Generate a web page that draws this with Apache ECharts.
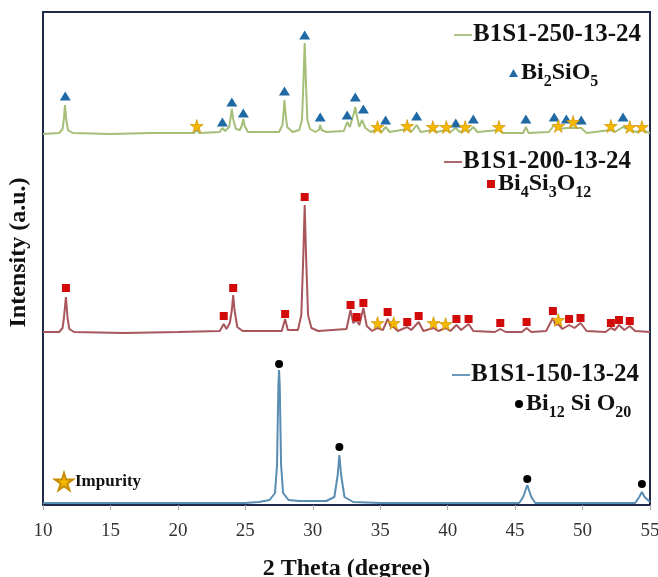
<!DOCTYPE html>
<html><head><meta charset="utf-8">
<script src="https://cdn.jsdelivr.net/npm/echarts@6/dist/echarts.min.js"></script>
<style>html,body{margin:0;padding:0;background:#fff}#c{width:658px;height:577px}</style>
</head><body><div id="c"></div>
<script>
// X axis (2 Theta, degree)
const xMin = 10, xMax = 55, xStep = 5;
// Trace points [2theta, intensity a.u.] (stacked traces already offset)
const trace250 = [[10,371],[11.2,372],[11.45,376],[11.55,386],[11.63,400],[11.72,386],[11.85,375],[12.2,372],[15,371],[18,372],[21.2,372],[21.4,375],[21.6,372],[23.1,373],[23.3,377],[23.5,374],[23.8,378],[23.92,388],[24.0,396],[24.1,386],[24.3,376],[24.6,375],[24.75,380],[24.85,386],[24.95,379],[25.2,373],[27.5,373],[27.75,380],[27.85,395],[27.9,405],[27.97,393],[28.1,378],[28.5,373],[29.0,375],[29.2,385],[29.3,420],[29.4,462],[29.5,420],[29.6,385],[29.8,376],[30.2,373],[30.45,375],[30.55,380],[30.65,375],[31.0,373],[32.3,374],[32.55,383],[32.75,378],[32.9,385],[33.05,392],[33.15,398],[33.25,390],[33.45,378],[33.65,385],[33.75,387],[33.9,377],[34.3,373],[34.8,376],[35.1,373],[35.4,378],[35.7,373],[37.0,376],[37.3,373],[37.7,380],[38.0,373],[38.9,375],[39.2,373],[39.9,375],[40.2,373],[40.6,377],[40.9,373],[41.3,375],[41.6,374],[41.9,378],[42.2,373],[43.8,375],[44.1,372],[45.6,372],[45.8,378],[46.0,372],[47.5,373],[47.9,380],[48.2,376],[48.8,377],[49.3,377],[49.9,377],[50.3,372],[52.1,375],[52.4,373],[53.0,378],[53.5,375],[54.0,373],[54.4,375],[55,372]];
const trace200 = [[10,173],[11.2,173],[11.45,177],[11.55,187],[11.7,208],[11.82,187],[11.95,176],[12.3,173],[16,172],[20,173],[23.1,174],[23.4,181],[23.6,176],[23.85,182],[24.0,195],[24.1,210],[24.2,195],[24.4,178],[24.8,174],[27.7,174],[27.95,186],[28.15,175],[28.9,175],[29.15,190],[29.3,250],[29.4,300],[29.5,250],[29.65,190],[29.9,177],[30.4,174],[32.5,176],[32.8,195],[33.0,182],[33.25,185],[33.45,180],[33.75,197],[34.0,179],[34.4,174],[34.8,177],[35.2,175],[35.55,186],[35.8,178],[36.0,178],[36.3,174],[37.0,178],[37.3,175],[37.85,183],[38.2,174],[38.95,177],[39.3,174],[39.85,177],[40.2,174],[40.65,180],[41.0,175],[41.55,181],[41.9,174],[43.5,173],[43.9,176],[44.3,173],[45.5,173],[45.85,177],[46.2,173],[47.3,174],[47.8,187],[48.0,180],[48.2,181],[48.5,176],[49.0,180],[49.4,177],[49.85,182],[50.3,174],[51.7,173],[52.1,177],[52.4,175],[52.7,180],[53.1,175],[53.5,179],[53.9,174],[55,173]];
const trace150 = [[10,2],[15,2],[20,2],[25,2],[26,3],[26.8,5],[27.2,12],[27.35,40],[27.45,120],[27.5,135],[27.55,120],[27.65,40],[27.8,12],[28.2,5],[29,4],[31,4],[31.6,8],[31.85,30],[31.97,50],[32.1,30],[32.35,8],[33,3],[35,2],[40,2],[45.3,2],[45.6,8],[45.9,20],[46.2,8],[46.5,2],[50,2],[53.9,2],[54.2,8],[54.4,13],[54.6,8],[55,3]];
// Phase markers [2theta, intensity]
const bi2sio5 = [[11.65,409],[23.3,383],[24.0,403],[24.85,392],[27.9,414],[29.4,470],[30.55,388],[32.55,390],[33.15,408],[33.75,396],[35.4,385],[37.7,389],[40.6,382],[41.9,386],[45.8,386],[47.9,388],[48.8,386],[49.9,385],[53.0,388]];
const bi4si3o12 = [[11.7,217],[23.4,189],[24.1,217],[27.95,191],[29.4,308],[32.8,200],[33.25,188],[33.75,202],[35.55,193],[37.0,183],[37.85,189],[40.65,186],[41.55,186],[43.9,182],[45.85,183],[47.8,194],[49.0,186],[49.85,187],[52.1,182],[52.7,185],[53.5,184]];
const bi12sio20 = [[27.5,141],[31.97,58],[45.9,26],[54.4,21]];
const impurity = [[21.4,379],[34.8,378],[37.0,379],[38.9,378],[39.9,378],[41.3,378],[43.8,378],[48.2,379],[49.3,383],[52.1,379],[53.5,378],[54.4,378],[34.8,182],[36.0,182],[38.95,182],[39.85,181],[48.2,185]];

const SERIF = '"Liberation Serif","Times New Roman",serif';
const STAR = 'path://M50,0 L61,35 L98,35 L68,57 L79,91 L50,70 L21,91 L32,57 L2,35 L39,35 Z';
const LINEICON = 'path://M0,0 H20 V2 H0 Z';
const richNames = {
  'Bi2SiO5': '{b|Bi}{s|2}{b|SiO}{s|5}',
  'Bi4Si3O12': '{b|Bi}{s|4}{b|Si}{s|3}{b|O}{s|12}',
  'Bi12 Si O20': '{b|Bi}{s|12}{b| Si O}{s|20}'
};
const rich = {
  b: {fontFamily: SERIF, fontWeight: 'bold', fontSize: 24, color: '#111', lineHeight: 33, verticalAlign: 'middle'},
  s: {fontFamily: SERIF, fontWeight: 'bold', fontSize: 16, color: '#111', lineHeight: 33, verticalAlign: 'bottom'}
};
function nameLegend(name, left, top) {
  return {data: [name], left: left, top: top, padding: 0, icon: LINEICON, itemWidth: 18, itemHeight: 2, itemGap: 0,
    textStyle: {fontFamily: SERIF, fontWeight: 'bold', fontSize: 25, color: '#111', lineHeight: 26, padding: [0,0,0,-4]}};
}
function phaseLegend(name, icon, w, h, left, top) {
  return {data: [name], left: left, top: top, padding: 0, icon: icon, itemWidth: w, itemHeight: h,
    formatter: n => richNames[n], textStyle: {rich: rich, padding: [0,0,0,-2]}};
}
const chart = echarts.init(document.getElementById('c'), null, {renderer: 'canvas'});
chart.setOption({
  animation: false,
  backgroundColor: '#fff',
  grid: {left: 43, right: 8, top: 12, bottom: 72, outerBoundsMode: 'none', containLabel: false, show: true, borderColor: '#1e2b4a', borderWidth: 2, backgroundColor: 'transparent'},
  legend: [
    nameLegend('B1S1-250-13-24', 454, 22),
    phaseLegend('Bi2SiO5', 'triangle', 9, 8, 509, 61),
    nameLegend('B1S1-200-13-24', 444, 149),
    phaseLegend('Bi4Si3O12', 'rect', 8, 8, 487, 172),
    nameLegend('B1S1-150-13-24', 452, 362),
    phaseLegend('Bi12 Si O20', 'circle', 8, 8, 515, 392),
    {data: ['Impurity'], left: 54, top: 472, padding: 0, icon: STAR, itemWidth: 18, itemHeight: 18,
     textStyle: {fontFamily: SERIF, fontWeight: 'bold', fontSize: 17, color: '#111', padding: [0,0,0,-3]}}
  ],
  xAxis: {type: 'value', min: xMin, max: xMax, interval: xStep,
    name: '2 Theta (degree)', nameLocation: 'middle', nameGap: 52,
    nameTextStyle: {fontFamily: SERIF, fontWeight: 'bold', fontSize: 24, color: '#111'},
    axisLine: {show: true, lineStyle: {color: '#1e2b4a', width: 2}},
    axisTick: {show: true, length: 5, lineStyle: {color: '#aaa'}},
    axisLabel: {fontFamily: SERIF, fontSize: 19, color: '#333', margin: 17},
    splitLine: {show: false}},
  yAxis: {type: 'value', min: 0, max: 493,
    name: 'Intensity (a.u.)', nameLocation: 'middle', nameGap: 12, nameRotate: 90,
    nameTextStyle: {fontFamily: SERIF, fontWeight: 'bold', fontSize: 24, color: '#111', padding: [0,0,0,12]},
    axisLine: {show: false}, axisTick: {show: false}, axisLabel: {show: false}, splitLine: {show: false}},
  series: [
    {name: 'B1S1-250-13-24', type: 'line', data: trace250, showSymbol: false, symbol: 'none', lineStyle: {color: '#a5be78', width: 2}, itemStyle: {color: '#a5be78'}, z: 2},
    {name: 'B1S1-200-13-24', type: 'line', data: trace200, showSymbol: false, symbol: 'none', lineStyle: {color: '#a8565b', width: 2}, itemStyle: {color: '#a8565b'}, z: 2},
    {name: 'B1S1-150-13-24', type: 'line', data: trace150, showSymbol: false, symbol: 'none', lineStyle: {color: '#5a8db2', width: 2}, itemStyle: {color: '#5a8db2'}, z: 2},
    {name: 'Bi2SiO5', type: 'scatter', data: bi2sio5, symbol: 'triangle', symbolSize: [11, 9], itemStyle: {color: '#1f6aa5', opacity: 1}, z: 5},
    {name: 'Bi4Si3O12', type: 'scatter', data: bi4si3o12, symbol: 'rect', symbolSize: 8, itemStyle: {color: '#d20a0a', opacity: 1}, z: 5},
    {name: 'Bi12 Si O20', type: 'scatter', data: bi12sio20, symbol: 'circle', symbolSize: 8, itemStyle: {color: '#000', opacity: 1}, z: 5},
    {name: 'Impurity', type: 'scatter', data: impurity, symbol: STAR, symbolSize: 13, itemStyle: {color: '#f5b800', borderColor: '#c88a00', borderWidth: 0.6, opacity: 1}, z: 6}
  ]
});
</script></body></html>
